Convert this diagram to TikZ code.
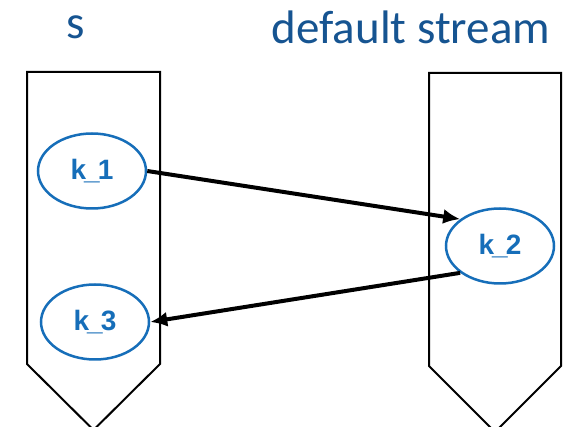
\documentclass[tikz,border=0pt]{standalone}
\usepackage{fontspec}
\setmainfont{Carlito}
\newfontfamily\labfont[LetterSpace=-7]{Liberation Sans}
\usetikzlibrary{arrows.meta,shapes.geometric}
\definecolor{titleblue}{RGB}{22,84,145}
\definecolor{kblue}{RGB}{22,110,185}
\tikzset{
  streambox/.style={draw=black, line width=2pt, line join=miter, fill=white},
  kernel/.style={ellipse, draw=kblue, line width=2.5pt, fill=white, minimum width=108pt, minimum height=75pt, inner sep=0pt,
     font=\labfont\bfseries\fontsize{28}{30}\selectfont, text=kblue},
  title/.style={anchor=base, text=titleblue, font=\fontsize{47}{50}\selectfont, inner sep=0pt},
  dep/.style={line width=4pt, -{Latex[length=17pt,width=15pt]}}
}
\begin{document}
\begin{tikzpicture}[x=1pt,y=-1pt]
\useasboundingbox (0,0) rectangle (563,427);
\begin{scope}
\clip (0,0) rectangle (563,427);
\draw[streambox] (27,72) -- (160,72) -- (160,364) -- (93.5,430) -- (27,364) -- cycle;
\draw[streambox] (429,73) -- (561,73) -- (561,366) -- (495,432) -- (429,366) -- cycle;
\end{scope}
\node[title] (ts) at (75.5,39) {s};
\node[title] (td) at (411,44) {default stream};
\node[kernel] (k1) at (92,171) {k\_1};
\node[kernel] (k3) at (95,322) {k\_3};
\node[kernel] (k2) at (500,246) {k\_2};
\draw[dep] (k1.east) -- (k2.146);
\draw[dep] (k2.214) -- (k3.east);
\end{tikzpicture}
\end{document}
